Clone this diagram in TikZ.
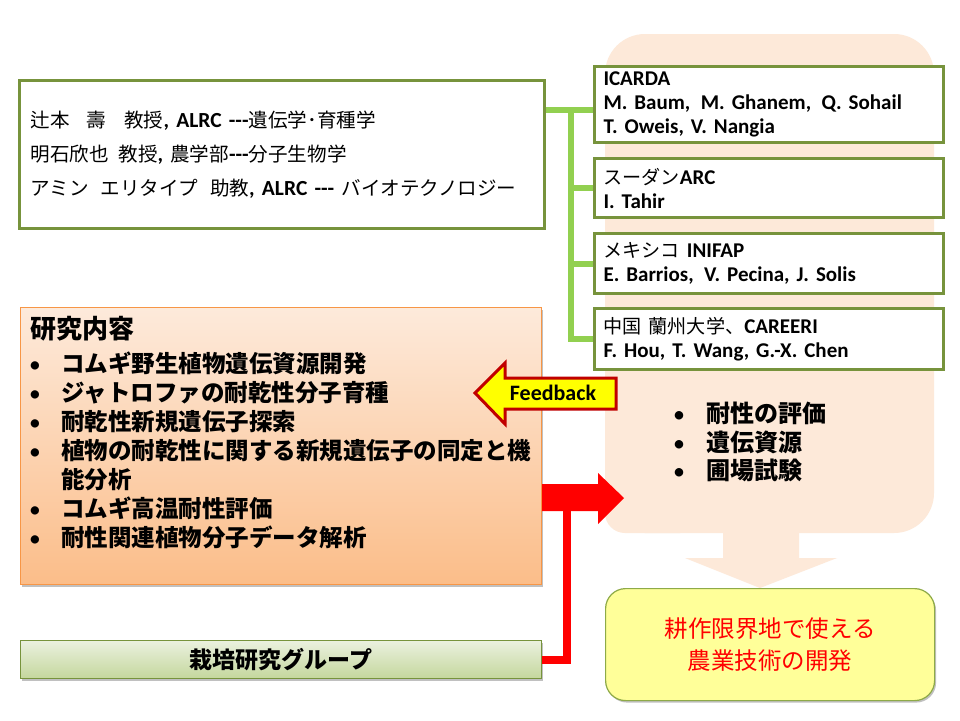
\documentclass[tikz,border=0pt]{standalone}
\usepackage{fontspec}
\setmainfont{Carlito}
\newfontfamily\cjk{Noto Sans CJK JP}
\newfontfamily\cjks[Scale=0.91]{Noto Sans CJK JP}
\usetikzlibrary{shadows}
\definecolor{oliveC}{HTML}{77933C}
\definecolor{greenC}{HTML}{92D050}
\definecolor{peachC}{HTML}{FDE9D9}
\definecolor{orangeT}{HTML}{FDEADB}
\definecolor{orangeB}{HTML}{FBBD89}
\definecolor{orangeL}{HTML}{F79646}
\definecolor{redC}{HTML}{FF0000}
\definecolor{redD}{HTML}{C00000}
\definecolor{yellowF}{HTML}{FFFF00}
\definecolor{yellowC}{HTML}{FFFF99}
\definecolor{yOlive}{HTML}{8EAA48}
\definecolor{greenT}{HTML}{EBF1DF}
\definecolor{greenB}{HTML}{C4D79D}
\newcommand{\J}[1]{{\cjks\mdseries #1}}
\newcommand{\dashes}{-{}-{}-}
\newcommand{\bul}{\makebox[32pt][l]{\normalfont\mdseries •}}
\begin{document}
\begin{tikzpicture}[x=1pt,y=-1pt,
  box/.style={draw=oliveC, line width=3pt, fill=white, inner sep=0pt, anchor=north west},
  gline/.style={draw=greenC, line width=6pt},
  rline/.style={draw=redC, line width=8pt},
  shad/.style={drop shadow={shadow xshift=1.5pt, shadow yshift=-2pt, opacity=0.35, fill=black!70}}]
\useasboundingbox (0,0) rectangle (960,720);
\fill[white] (0,0) rectangle (960,720);

% peach background shape with down arrow
\fill[peachC, rounded corners=40pt] (605,34) rectangle (934,533);
\fill[peachC, rounded corners=20pt] (605,300) rectangle (700,533);
\fill[peachC] (723,530) -- (799,530) -- (799,558) -- (837,558) -- (760,588) -- (685,558) -- (723,558) -- cycle;

% team box
\node[box, minimum width=523pt, minimum height=148pt, text width=503pt, inner xsep=11pt,
      align=left, font=\fontsize{21.5}{34}\selectfont] (team) at (18,79)
 {\J{辻本\hspace{0.85em}壽\hspace{0.95em}教授}\textbf{, ALRC \dashes}\J{遺伝学}\textbf{\J{･}}\J{育種学}\\
  \J{明石欣也\hspace{0.5em}教授}\textbf{, }\J{農学部}\textbf{\dashes}\J{分子生物学}\\
  \J{アミン\hspace{0.6em}エリタイプ\hspace{0.6em}助教}\textbf{, ALRC \dashes{} }\J{バイオテクノロジー}};

% partner boxes
\begin{scope}[every node/.style={box, minimum width=349pt, text width=331pt, inner xsep=9pt,
      align=left, font=\bfseries\fontsize{21}{24}\selectfont}]
\node[minimum height=76pt] (icarda) at (593,65) {ICARDA\\M. Baum,\, M. Ghanem,\, Q. Sohail\\T. Oweis, V. Nangia};
\node[minimum height=59pt] (sudan) at (593,157) {\J{スーダン}ARC\\I. Tahir};
\node[minimum height=60pt] (mexico) at (593,232) {\J{メキシコ} INIFAP\\E. Barrios,\, V. Pecina, J. Solis};
\node[minimum height=61pt] (china) at (593,307) {\J{中国 蘭州大学、}CAREERI\\F. Hou, T. Wang, G.-X. Chen};
\end{scope}

% green connectors
\coordinate (trunk) at (571,110);
\draw[gline] (team.east |- trunk) -- (icarda.west |- trunk);
\draw[gline] (trunk) |- (china.west);
\draw[gline] (trunk |- sudan.west) -- (sudan.west);
\draw[gline] (trunk |- mexico.west) -- (mexico.west);

% research box
\node[anchor=north west, minimum width=521pt, minimum height=277pt, inner sep=0pt,
      draw=orangeL, line width=1pt, top color=orangeT, bottom color=orangeB, shad] (research) at (20,307) {};
\node[anchor=west, inner sep=0pt, font=\cjk\bfseries\fontsize{26}{26}\selectfont] (rtitle) at (30,329) {研究内容};
\node[anchor=north west, inner sep=0pt, align=left, font=\cjk\bfseries\fontsize{23.5}{29}\selectfont] (ritems) at (29,351.5)
 {\bul コムギ野生植物遺伝資源開発\\
  \bul ジャトロファの耐乾性分子育種\\
  \bul 耐乾性新規遺伝子探索\\
  \bul 植物の耐乾性に関する新規遺伝子の同定と機\\
  \hspace*{32pt}能分析\\
  \bul コムギ高温耐性評価\\
  \bul 耐性関連植物分子データ解析};

% evaluation list in peach shape
\node[anchor=north west, inner sep=0pt, align=left, font=\cjk\bfseries\fontsize{24}{28.5}\selectfont] (evals) at (673,402)
 {\makebox[33pt][l]{\normalfont\mdseries •}耐性の評価\\
  \makebox[33pt][l]{\normalfont\mdseries •}遺伝資源\\
  \makebox[33pt][l]{\normalfont\mdseries •}圃場試験};

% feedback arrow
\draw[fill=yellowF, draw=redD, line width=3pt, line join=miter]
  (475,393) -- (505,363) -- (505,378) -- (616,378) -- (616,409) -- (505,409) -- (505,424) -- cycle;
\node[inner sep=0pt, font=\bfseries\fontsize{22}{22}\selectfont] (fb) at (553,393) {Feedback};

% cultivation group bar
\node[anchor=north west, minimum width=521pt, minimum height=38pt, inner sep=0pt,
      draw=oliveC, line width=1pt, top color=greenT, bottom color=greenB, shad,
      font=\cjk\bfseries\fontsize{23}{23}\selectfont] (grp) at (20,640) {栽培研究グループ};

% red connector and block arrow
\coordinate (redjoin) at (567,497);
\draw[rline, line join=miter] (grp.east) -| (redjoin);
\fill[redC] (research.east |- 0,484) -- (598,484) -- (598,473) -- (624,498) -- (598,524) -- (598,511) -- (research.east |- 0,511) -- cycle;

% goal box
\node[anchor=north west, minimum width=329pt, minimum height=112pt, rounded corners=20pt,
      draw=yOlive, line width=1.2pt, fill=yellowC, shad, align=center, text=redC,
      font=\cjk\fontsize{23.5}{32}\selectfont] (goal) at (605,588) {耕作限界地で使える\\農業技術の開発};
\end{tikzpicture}
\end{document}
